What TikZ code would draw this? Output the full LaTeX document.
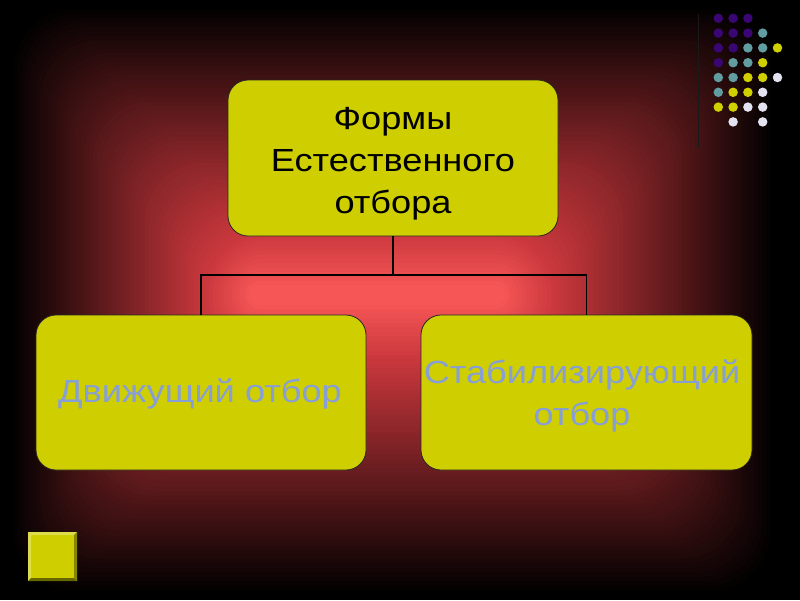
\documentclass[tikz,border=0pt]{standalone}
\usepackage{fontspec}
\setmainfont[FakeStretch=1.13]{Liberation Sans}
\definecolor{boxyellow}{RGB}{206,206,0}
\definecolor{dotpurple}{RGB}{58,6,115}
\definecolor{dotteal}{RGB}{96,156,160}
\definecolor{dotyellow}{RGB}{208,208,0}
\definecolor{dotlav}{RGB}{226,226,240}
\definecolor{bluetext}{RGB}{135,158,215}
\tikzset{
  formbox/.style={draw=black!85, line width=0.8pt, fill=boxyellow, rounded corners=20pt,
    minimum width=#1, minimum height=155pt, inner sep=0pt},
  formtext/.style={align=center, inner sep=0pt, font=\fontsize{32}{42}\selectfont},
  conn/.style={draw=black, line width=1.6pt},
  dot/.style={circle, inner sep=0pt, minimum size=9.5pt}
}
\begin{document}
\begin{tikzpicture}[x=1pt,y=-1pt]
\useasboundingbox (0,0) rectangle (800,600);
\fill[black] (0,0) rectangle (800,600);
% rectangular glow built from nested rounded rectangles
\foreach \i in {1,...,64}{
  \pgfmathsetmacro{\pp}{\i/64}
  \pgfmathsetmacro{\xl}{10+240*\pp}
  \pgfmathsetmacro{\xr}{775-270*\pp}
  \pgfmathsetmacro{\yt}{5+280*\pp}
  \pgfmathsetmacro{\yb}{595-290*\pp}
  \pgfmathsetmacro{\rr}{max(1,min(60,(\yb-\yt)/2-0.5))}
  \pgfmathsetmacro{\cr}{\pp<0.8 ? (200/255)*(\pp/0.8) : (200+46*(\pp-0.8)/0.2)/255}
  \pgfmathsetmacro{\cg}{\pp<0.8 ? (55/255)*(\pp/0.8) : (55+31*(\pp-0.8)/0.2)/255}
  \pgfmathsetmacro{\cb}{\pp<0.8 ? (60/255)*(\pp/0.8) : (60+26*(\pp-0.8)/0.2)/255}
  \definecolor{glowc}{rgb}{\cr,\cg,\cb}
  \fill[glowc, rounded corners=\rr pt] (\xl,\yt) rectangle (\xr,\yb);
}
% vertical line near dots
\draw[black!90, line width=1pt] (698,14) -- (698,148);
% dot grid
\foreach \r/\c/\col in {0/0/dotpurple,0/1/dotpurple,0/2/dotpurple,
  1/0/dotpurple,1/1/dotpurple,1/2/dotpurple,1/3/dotteal,
  2/0/dotpurple,2/1/dotpurple,2/2/dotteal,2/3/dotteal,2/4/dotyellow,
  3/0/dotpurple,3/1/dotteal,3/2/dotteal,3/3/dotyellow,
  4/0/dotteal,4/1/dotteal,4/2/dotyellow,4/3/dotyellow,4/4/dotlav,
  5/0/dotteal,5/1/dotyellow,5/2/dotyellow,5/3/dotlav,
  6/0/dotyellow,6/1/dotyellow,6/2/dotlav,6/3/dotlav,
  7/1/dotlav,7/3/dotlav}
  \node[dot, fill=\col] (d\r\c) at ({718.3+14.8*\c},{18.3+14.8*\r}) {};
% boxes
\node[formbox=330pt, minimum height=156pt] (top) at (393,158) {};
\node[formtext] (toplabel) at (393,164) {Формы\\Естественного\\отбора};
\node[formbox=330pt] (left) at (201,392.5) {};
\node[formtext, text=bluetext] (leftlabel) at (200,394) {Движущий отбор};
\node[formbox=331pt] (right) at (586.5,392.5) {};
\node[formtext, text=bluetext] (rightlabel) at (582,396) {Стабилизирующий\\отбор};
% connectors
\coordinate (j) at (395,275);
\draw[conn] (top.south) -- (top.south |- j) -| (left.north);
\draw[conn] (top.south |- j) -| (right.north);
% bevel square
\fill[boxyellow] (28,532) rectangle (77,581);
\fill[boxyellow!70!white] (28,532) -- (77,532) -- (74,535) -- (31,535) -- (31,578) -- (28,581) -- cycle;
\fill[boxyellow!65!black] (77,532) -- (77,581) -- (74,578) -- (74,535) -- cycle;
\fill[boxyellow!50!black] (28,581) -- (77,581) -- (74,578) -- (31,578) -- cycle;
\end{tikzpicture}
\end{document}
